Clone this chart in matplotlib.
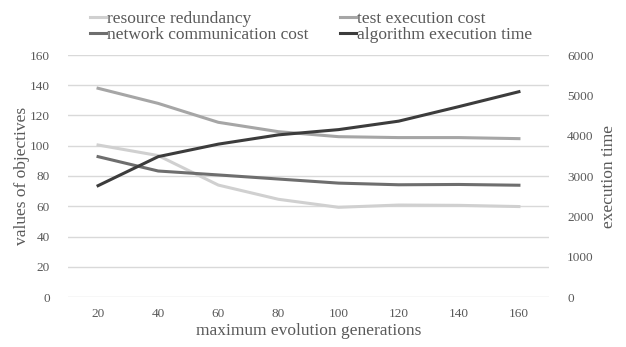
import matplotlib
matplotlib.use("Agg")
from matplotlib import pyplot as plt

generations = ["20", "40", "60", "80", "100", "120", "140", "160"]
resource_redundancy = [100.5, 93.5, 74, 64.6, 59.3, 60.8, 60.6, 59.8]
test_execution_cost = [138, 128, 115.5, 109.3, 106, 105.4, 105.4, 104.7]
network_comm_cost = [92.8, 83.3, 80.7, 78, 75.3, 74.2, 74.4, 73.9]
algorithm_time = [2760, 3480, 3790, 4020, 4150, 4360, 4720, 5090]

plt.rcParams["font.family"] = ["Liberation Serif", "DejaVu Serif"]
grey_text = "#595959"
grid_c = "#d9d9d9"

fig = plt.figure(figsize=(6.26, 3.47), dpi=100)
ax = fig.add_axes([68 / 626, 1 - 297 / 347, 481 / 626, 242 / 347])
ax2 = ax.twinx()

x = list(range(len(generations)))
l1, = ax.plot(x, resource_redundancy, color="#d0d0d0", lw=2.2, label="resource redundancy")
l2, = ax.plot(x, test_execution_cost, color="#a6a6a6", lw=2.2, label="test execution cost")
l3, = ax.plot(x, network_comm_cost, color="#6e6e6e", lw=2.2, label="network communication cost")
l4, = ax2.plot(x, algorithm_time, color="#3c3c3c", lw=2.2, label="algorithm execution time")

ax.set_xlim(-0.5, len(x) - 0.5)
ax.set_ylim(0, 160)
ax.set_yticks(range(0, 161, 20))
ax2.set_ylim(0, 6000)
ax2.set_yticks(range(0, 6001, 1000))
ax.set_xticks(x)
ax.set_xticklabels(generations)

ax.grid(axis="y", color=grid_c, lw=1)
ax.set_axisbelow(True)
for a in (ax, ax2):
    for s in a.spines.values():
        s.set_visible(False)
    a.tick_params(length=0, colors=grey_text, labelsize=9.5)
ax.tick_params(axis="y", pad=13)
ax.tick_params(axis="x", pad=8)
ax2.tick_params(axis="y", pad=13)

ax.set_xlabel("maximum evolution generations", fontsize=12.5, color=grey_text, labelpad=2)
ax.set_ylabel("values of objectives", fontsize=12.5, color=grey_text, labelpad=0)
ax2.set_ylabel("execution time", fontsize=12.5, color=grey_text, labelpad=5)

fig.legend([l1, l3, l2, l4], [l1.get_label(), l3.get_label(), l2.get_label(), l4.get_label()],
           ncol=2, loc="upper left", bbox_to_anchor=(74 / 626, 1.013), frameon=False,
           fontsize=12.5, handlelength=0.95, handletextpad=0.05, columnspacing=1.8,
           labelspacing=0.0, labelcolor=grey_text)

fig.savefig("out.png", dpi=100)
